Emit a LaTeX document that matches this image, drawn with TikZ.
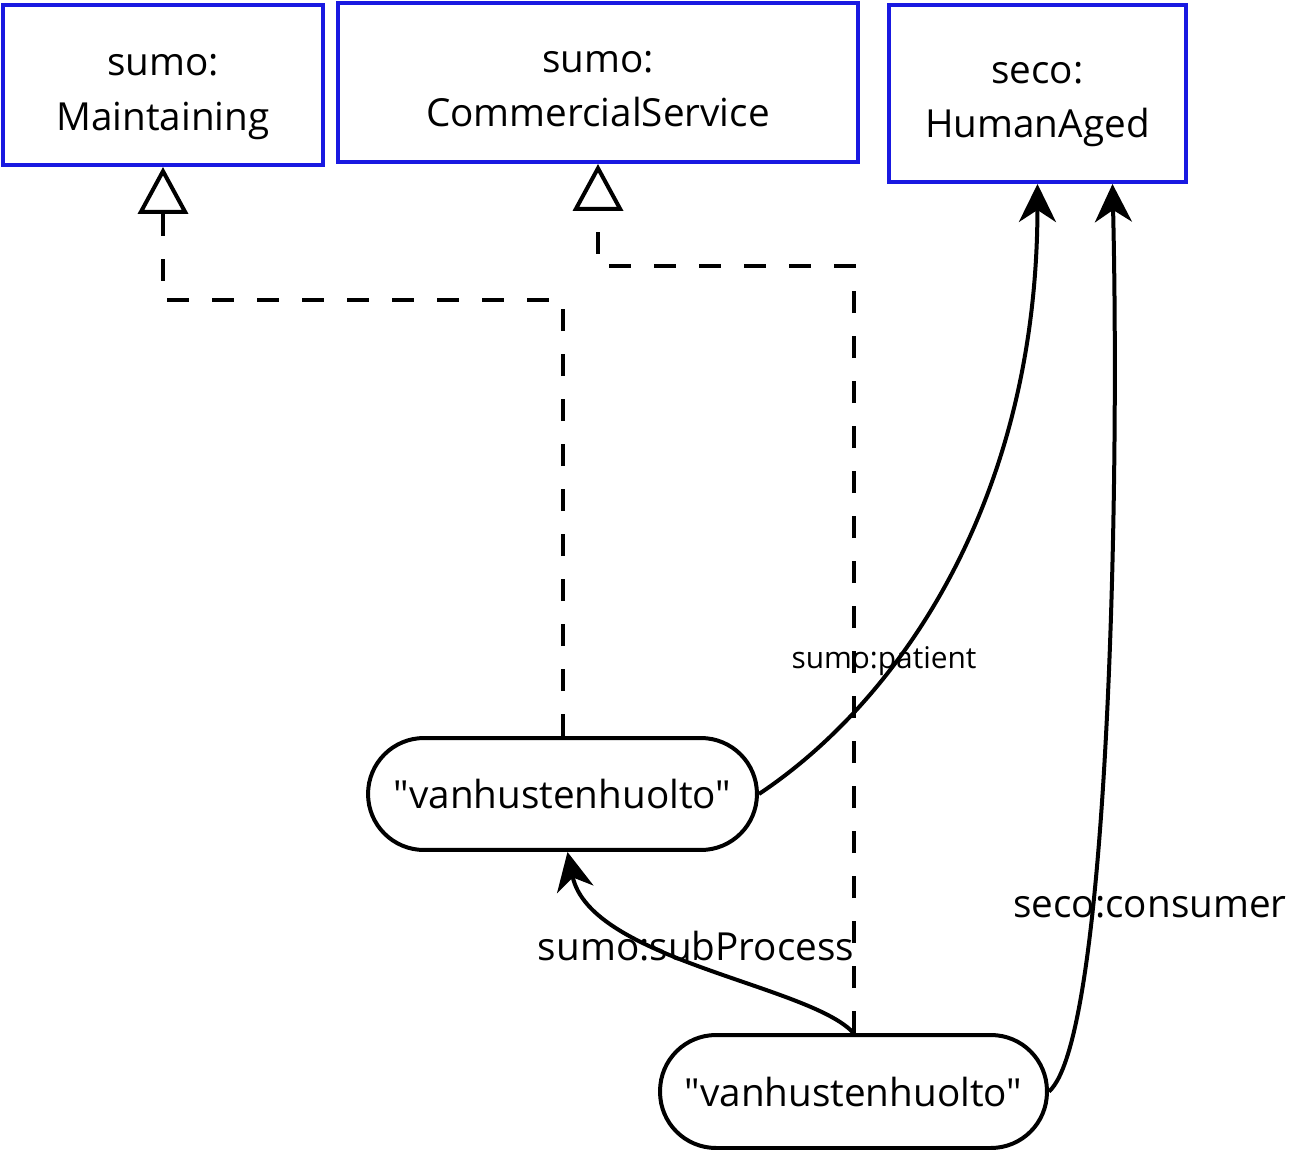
\documentclass[tikz,border=0pt]{standalone}
\usepackage{fontspec}
\setmainfont{Open Sans}
% literal values keep their straight quotes: no TeX ligature mapping here
\newfontfamily\litfont{Open Sans}
\usetikzlibrary{arrows.meta}
\definecolor{classblue}{RGB}{25,25,225}
\begin{document}
\begin{tikzpicture}[x=0.02cm,y=-0.02cm,
  classbox/.style={draw=classblue,line width=0.08cm,inner sep=0pt},
  boxtext/.style={align=center,inner sep=0pt,font=\fontsize{22}{31}\selectfont},
  literal/.style={draw=black,line width=0.08cm,rounded corners=1.12cm,inner sep=0pt,
    font=\litfont\fontsize{22}{27}\selectfont},
  subclass/.style={line width=0.08cm,dash pattern=on 0.44cm off 0.46cm,
    -{Triangle[open,length=0.94cm,width=1.0cm]}},
  relation/.style={line width=0.08cm,-{Stealth[length=0.76cm,width=0.74cm,inset=0.24cm]}},
  edgelabel/.style={inner sep=0pt,font=\fontsize{22}{27}\selectfont},
  smalllabel/.style={inner sep=0pt,font=\fontsize{17}{21}\selectfont}]
  \useasboundingbox (0,0) rectangle (1289,1153);

  % class boxes and their names
  \node[classbox,minimum width=6.4cm,minimum height=3.2cm] (m) at (163,85) {};
  \node[classbox,minimum width=10.4cm,minimum height=3.18cm] (c) at (598,82.5) {};
  \node[classbox,minimum width=5.94cm,minimum height=3.54cm] (h) at (1037.5,93.5) {};
  \node[boxtext] (mt) at ([yshift=-0.24cm]m.center) {sumo:\\Maintaining};
  \node[boxtext] (ct) at ([yshift=-0.13cm]c.center) {sumo:\\CommercialService};
  \node[boxtext] (ht) at ([yshift=-0.22cm]h.center) {seco:\\HumanAged};

  % literal nodes
  \node[literal,minimum width=7.78cm,minimum height=2.24cm] (v1) at (562.5,794) {"vanhustenhuolto"};
  \node[literal,minimum width=7.74cm,minimum height=2.26cm] (v2) at (853.5,1091.5) {"vanhustenhuolto"};

  % bends of the subclass connectors
  \coordinate (k1) at (163,300);
  \coordinate (k2) at (598,266);

  \draw[subclass] (v1.north) |- (k1) -- (m.south);
  \draw[subclass] (v2.north) |- (k2) -- (c.south);

  % property connectors
  \draw[relation] (v1.east) .. controls (900,700) and (1037,500) .. (h.south);
  \draw[relation] (v2.east) .. controls (1108,1040) and (1120,500) .. ([xshift=1.5cm]h.south);
  \draw[relation] (v2.north) .. controls (810,985) and (590,960) .. ([xshift=0.1cm]v1.south);

  % property labels
  \node[smalllabel] (lp) at (884,661) {sumo:patient};
  \node[edgelabel] (ls) at (696,946) {sumo:subProcess};
  \node[edgelabel] (lc) at (1150,907) {seco:consumer};
\end{tikzpicture}
\end{document}
